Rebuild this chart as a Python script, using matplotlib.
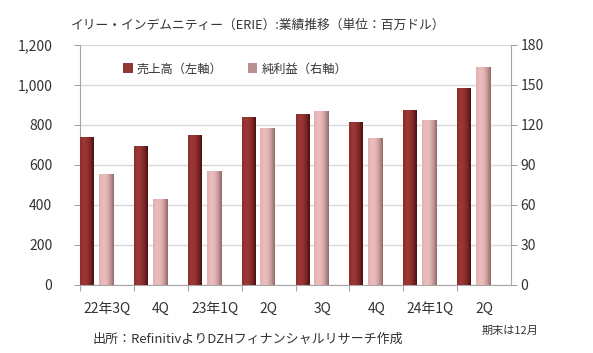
import numpy as np
import matplotlib.pyplot as plt
from matplotlib.colors import LinearSegmentedColormap
from matplotlib.patches import Patch

plt.rcParams['font.family'] = ['Noto Sans CJK JP', 'DejaVu Sans']

quarters = ['22年3Q', '4Q', '23年1Q', '2Q', '3Q', '4Q', '24年1Q', '2Q']
revenue = [738, 697, 750, 838, 857, 817, 877, 987]          # left axis
net_income = [83.5, 64.3, 85.8, 117.5, 130.5, 110.5, 123.5, 163.8]  # right axis

rev_color = '#943634'
ni_color = '#E6B9B8'
text_color = '#333333'
axis_color = '#A6A6A6'
grid_color = '#D9D9D9'


def shade_bars(ax, bars, cmap):
    grad = np.linspace(0, 1, 64).reshape(1, -1)
    for b in bars:
        x0, y0 = b.get_x(), b.get_y()
        x1, y1 = x0 + b.get_width(), y0 + b.get_height()
        im = ax.imshow(grad, cmap=cmap, extent=[x0, x1, y0, y1],
                       aspect='auto', zorder=b.get_zorder() + 0.1, interpolation='bilinear')
        im.set_clip_path(b)


fig = plt.figure(figsize=(5.93, 3.53), dpi=100)
W, H = 593, 353
ax = fig.add_axes([80 / W, (H - 285) / H, (511 - 80) / W, 240 / H])
ax2 = ax.twinx()

x = np.arange(len(quarters))
b1 = ax.bar(x, revenue, width=0.25, align='edge', color=rev_color, zorder=3)
b2 = ax2.bar(x + 0.35, net_income, width=0.27, align='edge', color=ni_color, zorder=3)

rev_cmap = LinearSegmentedColormap.from_list('rev', ['#8a2e2c', '#9c3836', '#953432', '#7a2523', '#4a1010'])
ni_cmap = LinearSegmentedColormap.from_list('ni', ['#e0b0af', '#e9bdbc', '#e6b9b8', '#c89a99', '#8f6a6a'])
shade_bars(ax, b1, rev_cmap)
shade_bars(ax2, b2, ni_cmap)

ax.set_xlim(0, len(quarters))
ax.set_ylim(0, 1200)
ax2.set_ylim(0, 180)
ax.set_yticks(range(0, 1201, 200))
ax.set_yticklabels([f'{v:,}' for v in range(0, 1201, 200)])
ax2.set_yticks(range(0, 181, 30))

ax.set_xticks(x)
ax.set_xticklabels([])
ax.set_xticks(x + 0.5, minor=True)
ax.set_xticklabels(quarters, minor=True)
ax.tick_params(axis='x', which='minor', length=0, pad=12, labelsize=10, labelcolor=text_color)
ax.tick_params(axis='x', which='major', length=4, color=axis_color)
ax.tick_params(axis='y', length=4, color=axis_color, pad=16, labelsize=10, labelcolor=text_color)
ax2.tick_params(axis='y', length=4, color=axis_color, pad=3, labelsize=10, labelcolor=text_color)

ax.yaxis.grid(True, color=grid_color, linewidth=1)
ax.set_axisbelow(True)

for a in (ax, ax2):
    a.spines['top'].set_visible(False)
    for s in ('left', 'right', 'bottom'):
        a.spines[s].set_color(axis_color)
ax.spines['right'].set_visible(False)
ax2.spines['left'].set_visible(False)
ax2.spines['bottom'].set_visible(False)

# ax2 draws on top, so its bars sit above ax's grid
ax.set_zorder(0)
ax2.set_zorder(1)
ax2.patch.set_visible(False)

handles = [Patch(facecolor=rev_color, label='売上高（左軸）'),
           Patch(facecolor='#b89090', label='純利益（右軸）')]
fig.legend(handles=handles, loc='center left', bbox_to_anchor=(123 / W, 1 - 69 / H),
           ncol=2, frameon=False, fontsize=8.8, handlelength=0.8, handleheight=0.9,
           handletextpad=0.33, columnspacing=2.05, borderpad=0, borderaxespad=0,
           labelcolor=text_color)

fig.text(258 / W, 1 - 25 / H, 'イリー・インデムニティー（ERIE）:業績推移（単位：百万ドル）',
         ha='center', va='center', fontsize=9.2, color=text_color)
fig.text(93 / W, 1 - 339 / H, '出所：RefinitivよりDZHフィナンシャルリサーチ作成',
         ha='left', va='center', fontsize=9.4, color=text_color)
fig.text(538 / W, 1 - 331 / H, '期末は12月', ha='right', va='center',
         fontsize=8, color=text_color)

fig.savefig('out.png', dpi=100)
